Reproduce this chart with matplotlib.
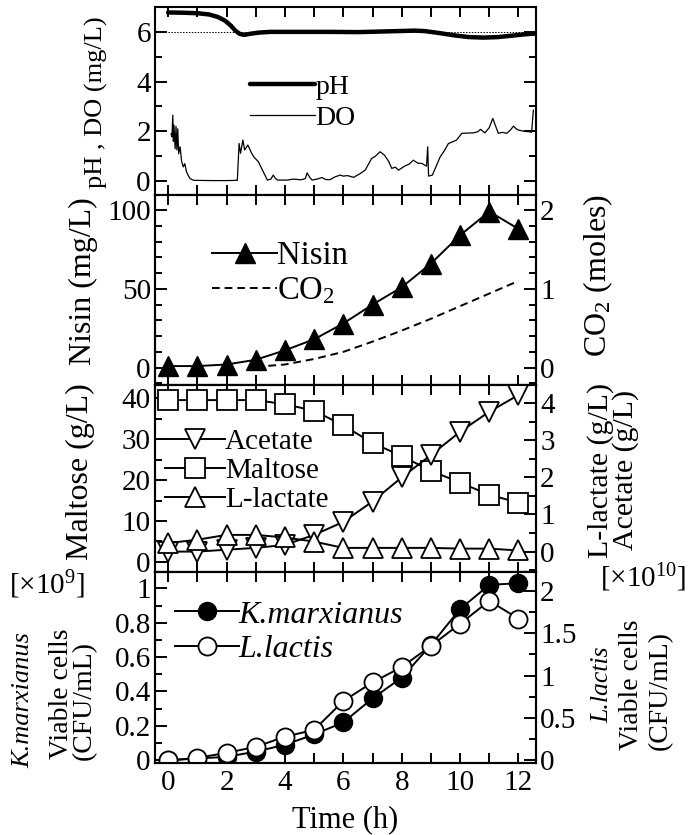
import matplotlib
matplotlib.use("Agg")
import matplotlib.pyplot as plt
from matplotlib.ticker import MultipleLocator

plt.rcParams["font.family"] = ["Liberation Serif", "DejaVu Serif"]
plt.rcParams["mathtext.fontset"] = "custom"
plt.rcParams["mathtext.rm"] = "Liberation Serif"
plt.rcParams["mathtext.it"] = "Liberation Serif:italic"

# ---- sampled fermentation data -------------------------------------------
hours = [0, 1, 2, 3, 4, 5, 6, 7, 8, 9, 10, 11, 12]
nisin = [1, 1, 2, 5, 11, 18, 28, 40, 51, 66, 84, 99, 88]
co2 = [0.0, 0.0, 0.0, 0.01, 0.04, 0.11, 0.2, 0.33, 0.47, 0.62, 0.78, 0.94, 1.1]
maltose = [39.6, 39.6, 39.6, 39.6, 38.6, 37.0, 33.4, 29.1, 25.9, 22.3, 19.4, 16.4, 14.5]
acetate = [0.0, 0.0, 0.05, 0.1, 0.18, 0.45, 0.8, 1.35, 2.0, 2.6, 3.23, 3.77, 4.22]
lactate = [0.23, 0.32, 0.45, 0.45, 0.38, 0.27, 0.1, 0.1, 0.1, 0.1, 0.08, 0.08, 0.03]
k_marxianus = [0.0, 0.01, 0.02, 0.05, 0.09, 0.15, 0.22, 0.36, 0.48, 0.67, 0.88, 1.02, 1.03]
l_lactis = [0.0, 0.03, 0.09, 0.16, 0.28, 0.36, 0.7, 0.92, 1.1, 1.35, 1.61, 1.88, 1.67]

ph_time = [0, 0.5, 1.0, 1.4, 1.7, 1.95, 2.15, 2.3, 2.45, 2.6, 2.8, 3.1, 3.5, 4.5,
           5.5, 6.5, 7.5, 8.45, 8.8, 9.3, 9.8, 10.3, 10.8, 11.3, 11.8, 12.2, 12.55]
ph = [6.78, 6.77, 6.75, 6.7, 6.6, 6.45, 6.25, 6.05, 5.92, 5.88, 5.92, 5.97, 6.0, 6.0,
      6.0, 5.99, 6.02, 6.05, 6.03, 5.95, 5.86, 5.79, 5.77, 5.79, 5.85, 5.9, 5.93]

do_time = [0.1, 0.13, 0.16, 0.18, 0.2, 0.24, 0.27, 0.3, 0.33, 0.36, 0.41, 0.46, 0.52,
           0.57, 0.63, 0.7, 0.75, 0.87, 1.5, 2.0, 2.37, 2.43, 2.48, 2.56, 2.62, 2.73,
           2.86, 2.95, 3.09, 3.26, 3.4, 3.52, 3.6, 3.68, 3.75, 4.07, 4.3, 4.55, 4.7,
           4.76, 4.85, 4.93, 5.1, 5.27, 5.4, 5.55, 5.7, 5.89, 6.0, 6.15, 6.35, 6.55,
           6.75, 6.97, 7.1, 7.26, 7.41, 7.55, 7.66, 7.78, 7.89, 8.1, 8.25, 8.4, 8.55,
           8.69, 8.85, 8.89, 8.92, 9.05, 9.2, 9.32, 9.45, 9.6, 9.75, 9.88, 10.06,
           10.25, 10.46, 10.6, 10.7, 10.85, 11.0, 11.12, 11.22, 11.31, 11.45, 11.6,
           11.72, 11.83, 11.92, 12.0, 12.2, 12.4, 12.45, 12.51]
do = [1.9, 1.78, 2.65, 1.6, 2.25, 1.3, 2.2, 1.25, 2.1, 1.1, 1.38, 0.8, 0.57,
      0.7, 0.37, 0.2, 0.1, 0.03, 0.02, 0.02, 0.03, 1.51, 1.12, 1.65, 1.25, 1.45,
      1.12, 0.95, 0.78, 0.37, 0.04, 0.08, 0.24, 0.1, 0.04, 0.04, 0.08, 0.05, 0.1,
      0.33, 0.15, 0.04, 0.08, 0.14, 0.06, 0.06, 0.16, 0.24, 0.2, 0.22, 0.15, 0.28,
      0.44, 0.91, 1.0, 1.18, 1.04, 0.8, 0.51, 0.56, 0.44, 0.6, 0.68, 0.84, 0.72,
      0.71, 0.6, 1.38, 0.2, 0.24, 0.65, 0.98, 1.2, 1.51, 1.58, 1.65, 1.92,
      1.93, 1.94, 1.98, 2.08, 1.94, 2.15, 2.52, 2.2, 1.92, 1.96, 1.92,
      2.05, 2.21, 2.1, 2.05, 2.0, 1.98, 1.96, 2.85]
ph_setpoint = 6.0

# ---- figure layout ----------------------------------------------------------
W, H = 690, 835
fig = plt.figure(figsize=(W / 100, H / 100), dpi=100)


def px_axes(top, bottom, left=155, right=536):
    return fig.add_axes([left / W, 1 - bottom / H, (right - left) / W, (bottom - top) / H])


TICK_FS = 21
XLIM = (-0.45, 12.6)


def style_axis(ax, ymajor, yminor, left=True, right=True, xlabels=False):
    ax.set_xlim(*XLIM)
    ax.xaxis.set_major_locator(MultipleLocator(2))
    ax.xaxis.set_minor_locator(MultipleLocator(1))
    ax.yaxis.set_major_locator(MultipleLocator(ymajor))
    ax.yaxis.set_minor_locator(MultipleLocator(yminor))
    ax.tick_params(axis="x", which="both", direction="in", top=True, bottom=True,
                   length=7, width=1.4, labelbottom=xlabels, labelsize=TICK_FS, pad=5)
    ax.tick_params(axis="y", which="major", direction="in", left=left, right=right,
                   length=8.5, width=1.4, labelsize=TICK_FS, pad=3)
    ax.tick_params(axis="y", which="minor", direction="in", left=left, right=right,
                   length=5, width=1.4)
    for s in ax.spines.values():
        s.set_linewidth(1.5)


def twin_style(tw, ymajor, yminor):
    tw.yaxis.set_major_locator(MultipleLocator(ymajor))
    tw.yaxis.set_minor_locator(MultipleLocator(yminor))
    tw.tick_params(axis="y", which="major", direction="in", right=True, left=False,
                   length=8.5, width=1.4, labelsize=TICK_FS, pad=3)
    tw.tick_params(axis="y", which="minor", direction="in", right=True, left=False,
                   length=5, width=1.4)
    for s in tw.spines.values():
        s.set_linewidth(1.5)


# ---- panel 1: pH and DO -----------------------------------------------------
ax1 = px_axes(7, 195)
ax1.plot([0, 12.5], [ph_setpoint, ph_setpoint], color="black", lw=0.7, ls=(0, (1.5, 1.5)))
l_ph, = ax1.plot(ph_time, ph, color="black", lw=3.2, solid_capstyle="round")
l_do, = ax1.plot(do_time, do, color="black", lw=0.9)
ax1.set_ylim(-0.56, 7.0)
style_axis(ax1, 2, 1)
ax1.set_yticks([0, 2, 4, 6])
ax1.legend([l_ph, l_do], ["pH", "DO"], loc="upper left", bbox_to_anchor=(0.249, 0.64),
           frameon=False, fontsize=20, handlelength=2.35, handletextpad=0.0,
           labelspacing=0.2, borderpad=0, borderaxespad=0)

# ---- panel 2: nisin and CO2 -------------------------------------------------
ax2 = px_axes(195, 385)
l_nis, = ax2.plot(hours, nisin, color="black", lw=1.4, marker="^", ms=14,
                  mfc="black", mec="black", zorder=3)
ax2.set_ylim(-11, 109.5)
style_axis(ax2, 50, 10, right=False)
tw2 = ax2.twinx()
l_co2, = tw2.plot(hours[3:], co2[3:], color="black", lw=1.4, ls=(0, (4, 2.5)))
tw2.set_ylim(-0.22, 2.19)
twin_style(tw2, 1, 0.2)
tw2.legend([l_nis, l_co2], ["Nisin", r"CO$_2$"], loc="upper left",
           bbox_to_anchor=(0.15, 0.758), frameon=False, fontsize=23.5,
           handlelength=2.0, handletextpad=0.0, labelspacing=0.12,
           borderpad=0, borderaxespad=0)

# ---- panel 3: maltose, acetate, L-lactate ------------------------------------
ax3 = px_axes(385, 572)
l_mal, = ax3.plot(hours, maltose, color="black", lw=1.4, marker="s", ms=14,
                  mfc="white", mec="black", mew=1.3)
ax3.set_ylim(-2.5, 43.3)
style_axis(ax3, 10, 5, right=False)
tw3 = ax3.twinx()
l_ace, = tw3.plot(hours, acetate, color="black", lw=1.4, marker="v", ms=14,
                  mfc="white", mec="black", mew=1.3)
l_lac, = tw3.plot(hours, lactate, color="black", lw=1.4, marker="^", ms=14,
                  mfc="white", mec="black", mew=1.3)
tw3.set_ylim(-0.55, 4.49)
twin_style(tw3, 1, 0.5)
tw3.legend([l_ace, l_mal, l_lac], ["Acetate", "Maltose", "L-lactate"], loc="upper left",
           bbox_to_anchor=(0.026, 0.765), frameon=False, fontsize=21,
           handlelength=2.05, handletextpad=0.0, labelspacing=0.08,
           borderpad=0, borderaxespad=0)

# ---- panel 4: viable cells --------------------------------------------------
ax4 = px_axes(572, 763)
l_km, = ax4.plot(hours, k_marxianus, color="black", lw=1.4, marker="o", ms=13,
                 mfc="black", mec="black")
ax4.set_ylim(-0.016, 1.095)
style_axis(ax4, 0.2, 0.1, right=False, xlabels=True)
ax4.set_yticks([0, 0.2, 0.4, 0.6, 0.8, 1.0])
ax4.set_yticklabels(["0", "0.2", "0.4", "0.6", "0.8", "1"])
tw4 = ax4.twinx()
l_ll, = tw4.plot(hours, l_lactis, color="black", lw=1.4, marker="o", ms=13,
                 mfc="white", mec="black", mew=1.3)
tw4.set_ylim(-0.03, 2.22)
twin_style(tw4, 0.5, 0.25)
tw4.set_yticks([0, 0.5, 1.0, 1.5, 2.0])
tw4.set_yticklabels(["0", "0.5", "1", "1.5", "2"])
tw4.legend([l_km, l_ll], ["K.marxianus", "L.lactis"], loc="upper left",
           bbox_to_anchor=(0.052, 0.852), frameon=False,
           prop={"size": 23, "style": "italic"},
           handlelength=2.0, handletextpad=0.0, labelspacing=0.15,
           borderpad=0, borderaxespad=0)
ax4.set_xlabel("Time (h)", fontsize=22, labelpad=7)


# ---- side labels ------------------------------------------------------------
def ftext(x, y, s, **kw):
    kw.setdefault("ha", "center")
    kw.setdefault("va", "center")
    fig.text(x / W, 1 - y / H, s, **kw)


ftext(96, 102, "pH , DO (mg/L)", rotation=90, fontsize=19)
ftext(83, 281, "Nisin (mg/L)", rotation=90, fontsize=23)
ftext(80, 472, "Maltose (g/L)", rotation=90, fontsize=23)
ftext(598, 275, r"CO$_2$ (moles)", rotation=90, fontsize=23)
ftext(613, 470, "L-lactate (g/L)\nAcetate (g/L)", rotation=90, fontsize=21.5,
      linespacing=0.95)

ftext(23, 700, "K.marxianus", rotation=90, fontsize=19, style="italic")
ftext(61, 694, "Viable cells", rotation=90, fontsize=20)
ftext(84, 701, "(CFU/mL)", rotation=90, fontsize=20)
ftext(602, 685, "L.lactis", rotation=90, fontsize=18.5, style="italic")
ftext(632, 685, "Viable cells", rotation=90, fontsize=20)
ftext(660, 691, "(CFU/mL)", rotation=90, fontsize=20)

ftext(47, 585, r"[×10$^{9}$]", fontsize=21)
ftext(643, 578, r"[×10$^{10}$]", fontsize=21)

fig.savefig("out.png", dpi=100)
